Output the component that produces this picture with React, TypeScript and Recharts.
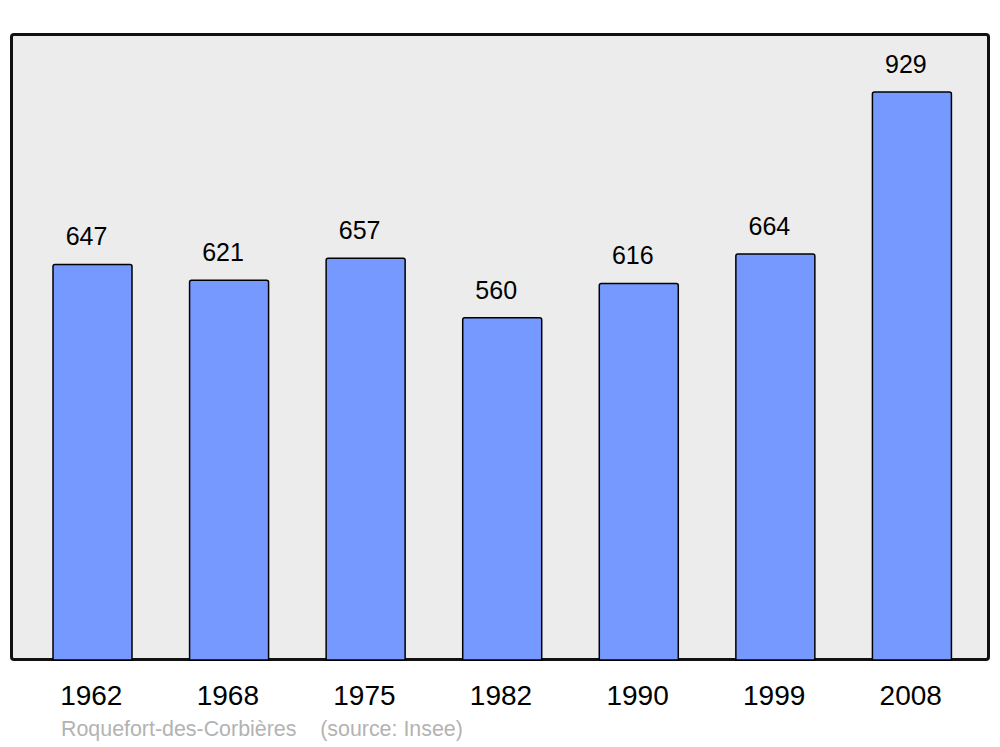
import { BarChart, Bar, XAxis, YAxis, LabelList } from "recharts";

const years = ["1962", "1968", "1975", "1982", "1990", "1999", "2008"];
const population = [647, 621, 657, 560, 616, 664, 929];

const data = years.map((year, i) => ({ year, pop: population[i] }));

const FONT = '"Liberation Sans", Arial, sans-serif';

function YearTick({ x, y, payload }: any) {
  return (
    <text x={x - 1} y={y + 37} textAnchor="middle" fontSize={28} fontFamily={FONT} fill="#000">
      {payload.value}
    </text>
  );
}

function ValueLabel({ x, y, width, value }: any) {
  return (
    <text x={x + width / 2 - 6} y={y - 19} textAnchor="middle" fontSize={25} fontFamily={FONT} fill="#000">
      {value}
    </text>
  );
}

export default function App() {
  return (
    <div style={{ position: "absolute", left: 0, top: 0, width: 1000, height: 747, background: "#fff" }}>
      <div
        style={{
          position: "absolute",
          left: 10,
          top: 33,
          width: 974,
          height: 622,
          background: "#ececec",
          border: "3px solid #111",
          borderRadius: 4,
        }}
      />
      <div style={{ position: "absolute", left: 0, top: 0 }}>
        <BarChart
          width={1000}
          height={747}
          data={data}
          margin={{ top: 34, right: 20, bottom: 0, left: 24 }}
          barSize={79}
        >
          <YAxis hide domain={[0, 1024]} />
          <XAxis dataKey="year" axisLine={false} tickLine={false} height={87} tick={<YearTick />} interval={0} />
          <Bar dataKey="pop" fill="#7599ff" stroke="#000" strokeWidth={1.5} radius={[2, 2, 0, 0]} isAnimationActive={false}>
            <LabelList dataKey="pop" content={<ValueLabel />} />
          </Bar>
        </BarChart>
      </div>
      <div
        style={{
          position: "absolute",
          left: 61,
          top: 717,
          fontFamily: FONT,
          fontSize: 21.4,
          color: "#b3b3b3",
          whiteSpace: "pre",
        }}
      >
        {"Roquefort-des-Corbières    (source: Insee)"}
      </div>
    </div>
  );
}
